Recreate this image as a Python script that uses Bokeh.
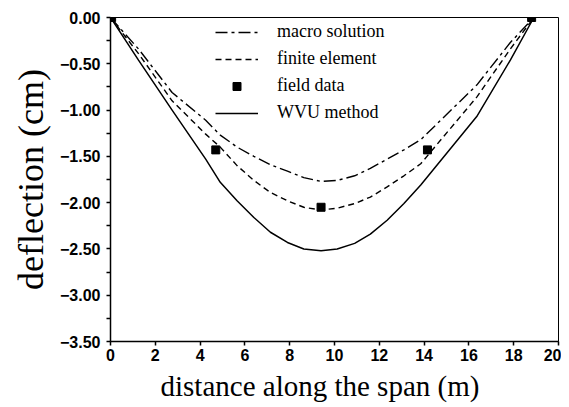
from bokeh.plotting import figure
from bokeh.models import FixedTicker, Legend, LegendItem, Title, Range1d
from bokeh.embed import file_html
from bokeh.resources import INLINE

# ---- data ----
x_pts = [0, 1.25, 2.75, 4.25, 4.9, 5.65, 6.4, 7.14, 7.9, 8.63, 9.4, 10.12, 10.9,
         11.6, 12.35, 13.1, 13.85, 16.35, 17.85, 18.9]
macro = [0, -0.34, -0.81, -1.11, -1.27, -1.40, -1.50, -1.59, -1.66, -1.73, -1.77, -1.76, -1.71,
         -1.63, -1.53, -1.43, -1.32, -0.73, -0.27, 0]
finite = [0, -0.39, -0.90, -1.26, -1.40, -1.60, -1.76, -1.89, -1.98, -2.05, -2.08, -2.06, -2.01,
          -1.94, -1.83, -1.71, -1.58, -0.86, -0.34, 0]
wvu = [0, -0.46, -1.00, -1.53, -1.78, -1.98, -2.16, -2.32, -2.43, -2.50, -2.52, -2.50, -2.44,
       -2.34, -2.19, -2.01, -1.81, -1.07, -0.46, 0]

field_x = [0.05, 4.7, 9.4, 14.15, 18.8]
field_y = [0, -1.43, -2.05, -1.43, 0]

x_ticks = [0, 2, 4, 6, 8, 10, 12, 14, 16, 18, 20]
x_tick_labels = ["0", "2", "4", "6", "8", "10", "12", "14", "16", "18", "20"]
y_ticks = [0, -0.5, -1.0, -1.5, -2.0, -2.5, -3.0, -3.5]
y_tick_labels = ["0.00", "\u22120.50", "\u22121.00", "\u22121.50", "\u22122.00", "\u22122.50", "\u22123.00", "\u22123.50"]
y_minor = [-0.25, -0.75, -1.25, -1.75, -2.25, -2.75, -3.25]

legend_labels = ["macro solution", "finite element", "field data", "WVU method"]
x_label = "distance along the span (m)"
y_label = "deflection (cm)"

TICK_FONT = "Liberation Sans"
SERIF = "Liberation Serif"

p = figure(width=561, height=405, output_backend="svg", toolbar_location=None,
           x_range=Range1d(0, 20), y_range=Range1d(-3.5, 0),
           min_border_left=110, min_border_right=3, min_border_top=17, min_border_bottom=64)

p.xgrid.visible = False
p.ygrid.visible = False
p.outline_line_color = "black"
p.outline_line_width = 1
p.background_fill_color = "white"
p.border_fill_color = "white"

# axes
p.xaxis.ticker = FixedTicker(ticks=x_ticks)
p.xaxis.major_label_overrides = {t: s for t, s in zip(x_ticks, x_tick_labels)}
p.yaxis.ticker = FixedTicker(ticks=y_ticks, minor_ticks=y_minor)
p.yaxis.major_label_overrides = {t: s for t, s in zip(y_ticks, y_tick_labels)}
for ax in (p.xaxis[0], p.yaxis[0]):
    ax.axis_line_color = "black"
    ax.axis_line_width = 1.5
    ax.major_tick_line_color = "black"
    ax.major_tick_line_width = 1.5
    ax.major_tick_in = 0
    ax.major_tick_out = 4
    ax.minor_tick_in = 0
    ax.minor_tick_out = 4
    ax.minor_tick_line_color = "black"
    ax.minor_tick_line_width = 1.5
    ax.major_label_text_font = TICK_FONT
    ax.major_label_text_font_style = "bold"
    ax.major_label_text_font_size = "16px"
    ax.major_label_text_color = "black"
p.xaxis.minor_tick_line_color = None
p.xaxis.major_label_standoff = 3
p.yaxis.major_label_standoff = 6

p.yaxis.axis_label = y_label
p.yaxis.axis_label_text_font = SERIF
p.yaxis.axis_label_text_font_style = "normal"
p.yaxis.axis_label_text_font_size = "36px"
p.yaxis.axis_label_text_color = "black"
p.yaxis.axis_label_standoff = 6

p.add_layout(Title(text=x_label, align="left", offset=50, text_font=SERIF,
                   text_font_style="normal", text_font_size="29px",
                   text_color="black", standoff=8), "below")

# data
r_macro = p.line(x_pts, macro, line_color="black", line_width=1.4, line_dash="12 4 3 4")
r_fin = p.line(x_pts, finite, line_color="black", line_width=1.4, line_dash="6 4")
r_field = p.scatter(field_x, field_y, marker="square", size=8, fill_color="black", line_color="black")
r_wvu = p.line(x_pts, wvu, line_color="black", line_width=1.5)

legend = Legend(items=[LegendItem(label=legend_labels[0], renderers=[r_macro]),
                       LegendItem(label=legend_labels[1], renderers=[r_fin]),
                       LegendItem(label=legend_labels[2], renderers=[r_field]),
                       LegendItem(label=legend_labels[3], renderers=[r_wvu])],
                location=(105, 218), padding=0, margin=0, spacing=6,
                glyph_width=43, glyph_height=20, label_height=20, label_standoff=19,
                label_text_font=SERIF, label_text_font_size="18px", label_text_color="black",
                border_line_color=None, background_fill_alpha=0)
p.add_layout(legend)

open("out.html", "w").write(file_html(p, INLINE))
